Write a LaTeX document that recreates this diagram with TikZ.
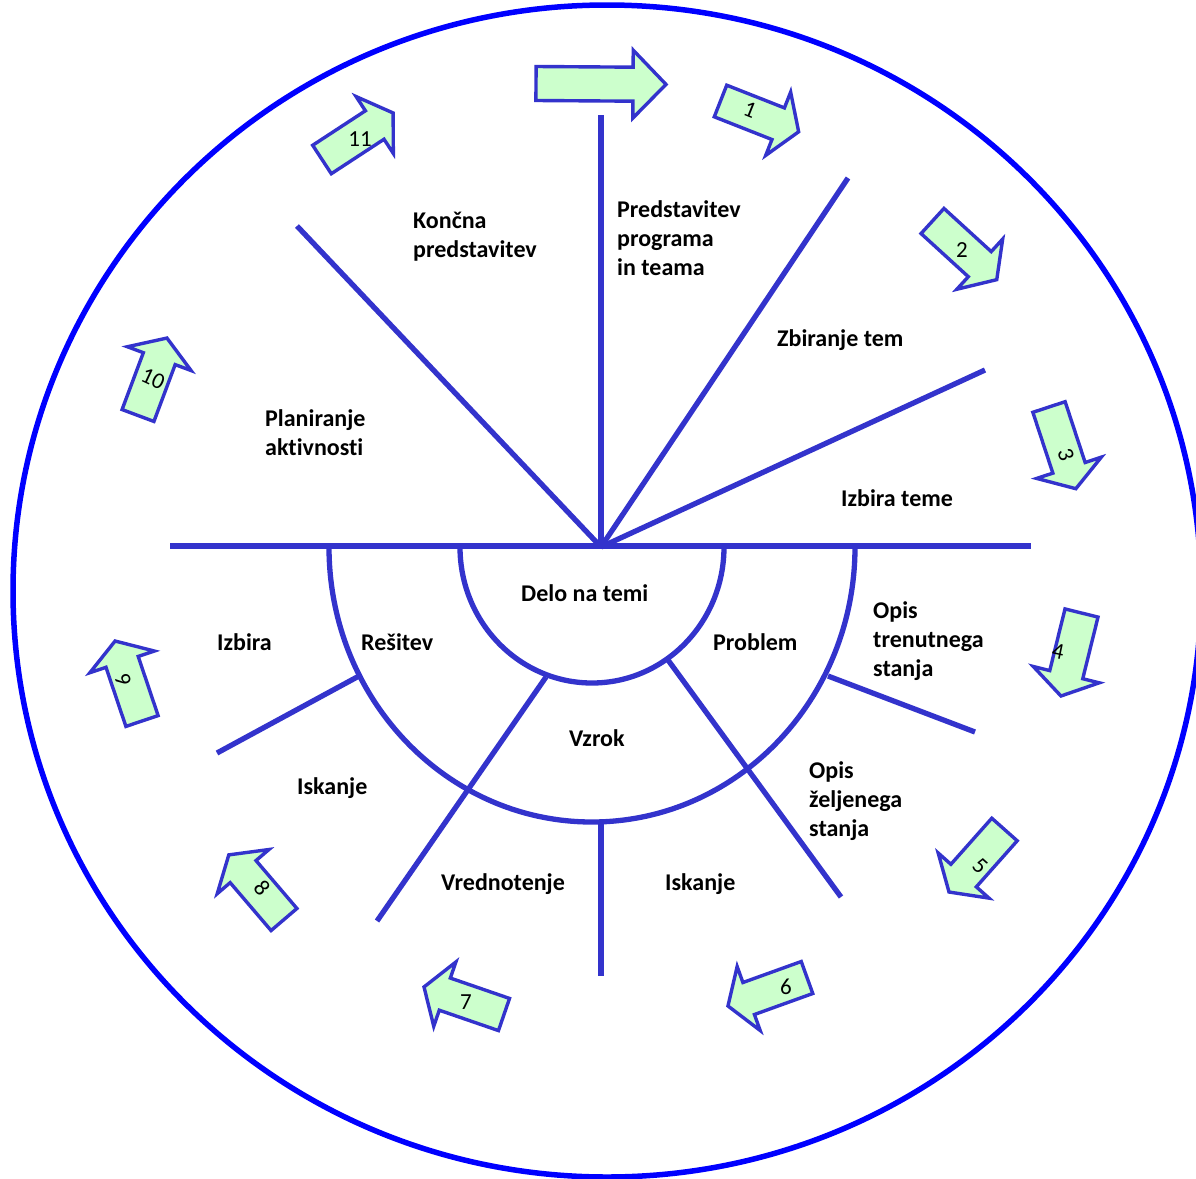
\documentclass[tikz,border=0pt]{standalone}
\usepackage{fontspec}
\setmainfont{Carlito}[Ligatures=NoCommon]
\definecolor{lineblue}{RGB}{51,51,204}
\definecolor{circblue}{RGB}{0,0,255}
\definecolor{arrowgreen}{RGB}{204,255,204}
\tikzset{
  radial/.style={draw=lineblue, line width=5.3pt},
  blockarrow/.style={draw=lineblue, fill=arrowgreen, line width=3.4pt, line join=miter},
  lbl/.style={font=\fontsize{24}{29}\selectfont\bfseries, align=left, anchor=base west, inner sep=0pt},
  num/.style={font=\fontsize{23}{26}\selectfont, inner sep=0pt},
}
\newcommand\blkarrow[6]{%
  \begin{scope}[shift={(#2,#3)}, rotate=#4]
    \draw[blockarrow] (0,-17) -- ({#5-#6},-17) -- ({#5-#6},-34) -- (#5,0) -- ({#5-#6},34) -- ({#5-#6},17) -- (0,17) -- cycle;
    \coordinate (#1) at ({#5/2},0);
  \end{scope}}
\begin{document}
\begin{tikzpicture}[x=1pt,y=-1pt]
\useasboundingbox (0,0) rectangle (1196,1178);
% outer circle
\draw[circblue, line width=5.5pt] (607,591) ellipse [x radius=594, y radius=586];

% centre and radial lines (upper half)
\coordinate (c) at (601,547);
\coordinate (hl) at (170,546);
\coordinate (hr) at (1031,546);
\coordinate (u1) at (601,115);
\coordinate (u2) at (848,178);
\coordinate (u3) at (985,370);
\coordinate (u4) at (297,226);
\draw[radial] (hl) -- (hr);
\draw[radial] (c) -- (u1);
\draw[radial] (c) -- (u2);
\draw[radial] (c) -- (u3);
\draw[radial] (c) -- (u4);

% half rings
\draw[radial] (460,547) arc[start angle=180, end angle=0, x radius=132, y radius=136];
\draw[radial] (329,547) arc[start angle=180, end angle=0, x radius=263, y radius=275];

% lower radial lines
\coordinate (l1a) at (546,677); \coordinate (l1b) at (377,921);
\coordinate (l2a) at (668,660); \coordinate (l2b) at (841,897);
\coordinate (l3a) at (601,820); \coordinate (l3b) at (601,976);
\coordinate (l4a) at (359,676); \coordinate (l4b) at (217,753);
\coordinate (l5a) at (828,676); \coordinate (l5b) at (975,732);
\draw[radial] (l1a) -- (l1b);
\draw[radial] (l2a) -- (l2b);
\draw[radial] (l3a) -- (l3b);
\draw[radial] (l4a) -- (l4b);
\draw[radial] (l5a) -- (l5b);

% block arrows
\blkarrow{a0}{536}{83.5}{-0.4}{130}{33}
\blkarrow{a1}{720.5}{101}{-21.5}{84}{22}
\blkarrow{a2}{932.5}{221}{-42.4}{87}{23}
\blkarrow{a3}{1049}{407}{-71.8}{86}{22}
\blkarrow{a4}{1081.5}{613}{-103.9}{85.5}{22}
\blkarrow{a5}{1004.5}{829.5}{-131.6}{83.6}{22}
\blkarrow{a6}{807}{977.5}{-160.2}{84}{22}
\blkarrow{a7}{504}{1014.5}{161}{84.6}{22}
\blkarrow{a8}{284}{919.5}{130.5}{85}{22}
\blkarrow{a9}{142}{721}{108.6}{84.4}{22}
\blkarrow{a10}{138}{415.5}{69.5}{82.7}{22}
\blkarrow{a11}{322}{159.5}{33.2}{85}{22}

% arrow numbers
\node[num, rotate=-22] (n1) at (750,110) {1};
\node[num] (n2) at (962,250) {2};
\node[num, rotate=-72] (n3) at (1066,455) {3};
\node[num, rotate=-12] (n4) at (1058,651) {4};
\node[num, rotate=-42] (n5) at (980,866) {5};
\node[num] (n6) at (786,987) {6};
\node[num] (n7) at (466,1002) {7};
\node[num, rotate=-50] (n8) at (262,888) {8};
\node[num, rotate=-72] (n9) at (123,680) {9};
\node[num, rotate=-25] (n10) at (153,379) {10};
\node[num] (n11) at (360,139) {11};

% labels (base anchor is the last line's baseline)
\node[lbl] (t1) at (413,257) {Končna\\predstavitev};
\node[lbl] (t2) at (617,275) {Predstavitev\\programa\\in teama};
\node[lbl] (t3) at (777,346) {Zbiranje tem};
\node[lbl] (t4) at (841,506) {Izbira teme};
\node[lbl] (t5) at (265,455) {Planiranje\\aktivnosti};
\node[lbl] (t6) at (521,601) {Delo na temi};
\node[lbl] (t7) at (713,650) {Problem};
\node[lbl] (t8) at (361,650) {Rešitev};
\node[lbl] (t9) at (217,650) {Izbira};
\node[lbl] (t10) at (873,676) {Opis\\trenutnega\\stanja};
\node[lbl] (t11) at (569,746) {Vzrok};
\node[lbl] (t12) at (297,794) {Iskanje};
\node[lbl] (t13) at (809,836) {Opis\\željenega\\stanja};
\node[lbl] (t14) at (441,890) {Vrednotenje};
\node[lbl] (t15) at (665,890) {Iskanje};
\end{tikzpicture}
\end{document}
